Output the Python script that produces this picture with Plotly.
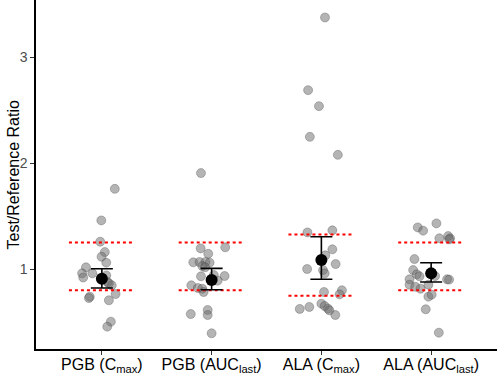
import plotly.graph_objects as go

categories = ["PGB (C<sub>max</sub>)", "PGB (AUC<sub>last</sub>)",
              "ALA (C<sub>max</sub>)", "ALA (AUC<sub>last</sub>)"]
y_title = "Test/Reference Ratio"

# individual test/reference ratios per group
pgb_cmax = [1.757, 1.459, 1.258, 1.160, 1.116, 1.06, 1.016, 0.959, 0.92, 0.959,
            0.94, 0.877, 0.846, 0.865, 0.764, 0.739, 0.726, 0.705, 0.503, 0.456]
pgb_auc = [1.906, 1.195, 1.205, 1.144, 1.063, 1.066, 1.066, 1.06, 1.028, 1.016,
           0.931, 0.934, 0.89, 0.943, 0.846, 0.821, 0.814, 0.783, 0.613, 0.566,
           0.575, 0.393]
ala_cmax = [3.375, 2.689, 2.538, 2.248, 2.078, 1.346, 1.365, 1.186, 1.129, 1.047,
            1.0, 0.99, 0.959, 0.783, 0.799, 0.761, 0.623, 0.642, 0.673, 0.651,
            0.626, 0.61, 0.566]
ala_auc = [1.431, 1.393, 1.362, 1.29, 1.311, 1.29, 1.28, 1.094, 0.99, 0.95,
           0.931, 0.903, 0.934, 0.903, 0.9, 0.852, 0.833, 0.814, 0.852, 0.739,
           0.758, 0.62, 0.399]

# horizontal jitter
pgb_cmax_jit = [0.118, -0.005, -0.015, 0.027, -0.003, 0.04, -0.145, -0.18, -0.17, -0.087,
                0.04, 0.052, 0.09, 0.064, 0.125, -0.11, -0.118, 0.064, 0.082, 0.049]
pgb_auc_jit = [-0.097, -0.1, 0.124, -0.031, -0.167, -0.11, -0.055, -0.018, -0.085, -0.06,
               -0.097, 0.118, 0.055, 0.02, -0.185, -0.125, -0.085, -0.073, -0.036, -0.036,
               -0.19, 0.0]
ala_cmax_jit = [0.033, -0.121, -0.022, -0.105, 0.15, -0.127, 0.1, 0.1, 0.036, 0.13,
                -0.13, 0.015, 0.03, 0.024, 0.187, 0.166, -0.197, -0.11, 0.0, 0.03,
                0.06, 0.073, 0.127]
ala_auc_jit = [0.048, -0.122, -0.073, 0.075, 0.155, 0.173, 0.164, -0.152, -0.164, -0.131,
               -0.106, -0.197, 0.036, 0.145, 0.164, -0.197, -0.145, -0.097, -0.025, -0.025,
               0.005, -0.049, 0.07]

# geometric mean ratio and 90% CI
gmr = [0.909, 0.896, 1.085, 0.959]
ci_low = [0.821, 0.805, 0.903, 0.877]
ci_high = [1.003, 1.006, 1.305, 1.06]

# bioequivalence limits
be_low = [0.80, 0.80, 0.748, 0.80]
be_high = [1.25, 1.25, 1.327, 1.25]

groups = [pgb_cmax, pgb_auc, ala_cmax, ala_auc]
jitters = [pgb_cmax_jit, pgb_auc_jit, ala_cmax_jit, ala_auc_jit]

fig = go.Figure()

for i, (vals, jit) in enumerate(zip(groups, jitters)):
    fig.add_trace(go.Scatter(
        x=[i + j for j in jit], y=vals, mode="markers",
        marker=dict(size=9, color="rgba(105,105,105,0.5)",
                    line=dict(color="rgba(60,60,60,0.3)", width=1)),
        showlegend=False, hoverinfo="y"))

for i in range(len(categories)):
    for lim in (be_low[i], be_high[i]):
        fig.add_trace(go.Scatter(
            x=[i - 0.3, i + 0.3], y=[lim, lim], mode="lines",
            line=dict(color="red", dash="dot", width=2),
            showlegend=False, hoverinfo="skip"))

fig.add_trace(go.Scatter(
    x=list(range(len(categories))), y=gmr, mode="markers",
    marker=dict(size=12, color="black"),
    error_y=dict(type="data", symmetric=False,
                 array=[h - m for h, m in zip(ci_high, gmr)],
                 arrayminus=[m - l for m, l in zip(gmr, ci_low)],
                 color="black", thickness=1.6, width=11),
    showlegend=False))

fig.add_annotation(text=y_title, textangle=-90, xref="paper", yref="paper",
                   x=0, y=0.5, xanchor="center", yanchor="middle", xshift=-23,
                   showarrow=False, font=dict(size=16, color="black"))

fig.update_layout(
    width=498, height=376,
    margin=dict(l=36, r=1, t=0, b=27, pad=0),
    paper_bgcolor="white", plot_bgcolor="white",
    font=dict(family="Liberation Sans, Arial, sans-serif"),
    xaxis=dict(range=[-0.6, 3.6], tickmode="array",
               tickvals=list(range(len(categories))), ticktext=categories,
               showline=True, linecolor="black", linewidth=1.5,
               ticks="outside", ticklen=4, tickcolor="#333333",
               tickfont=dict(size=16, color="black"),
               ticklabelstandoff=-4,
               showgrid=False, zeroline=False, automargin=False),
    yaxis=dict(range=[0.245, 3.54], tickvals=[1, 2, 3], ticktext=["1", "2", "3"],
               showline=True, linecolor="black", linewidth=1.5,
               ticks="outside", ticklen=4, tickcolor="#333333",
               tickfont=dict(size=14, color="#4D4D4D"),
               showgrid=False, zeroline=False, automargin=False),
)

fig.write_html("out.html", config={"displayModeBar": False},
               post_script="document.body.style.margin='0';")
